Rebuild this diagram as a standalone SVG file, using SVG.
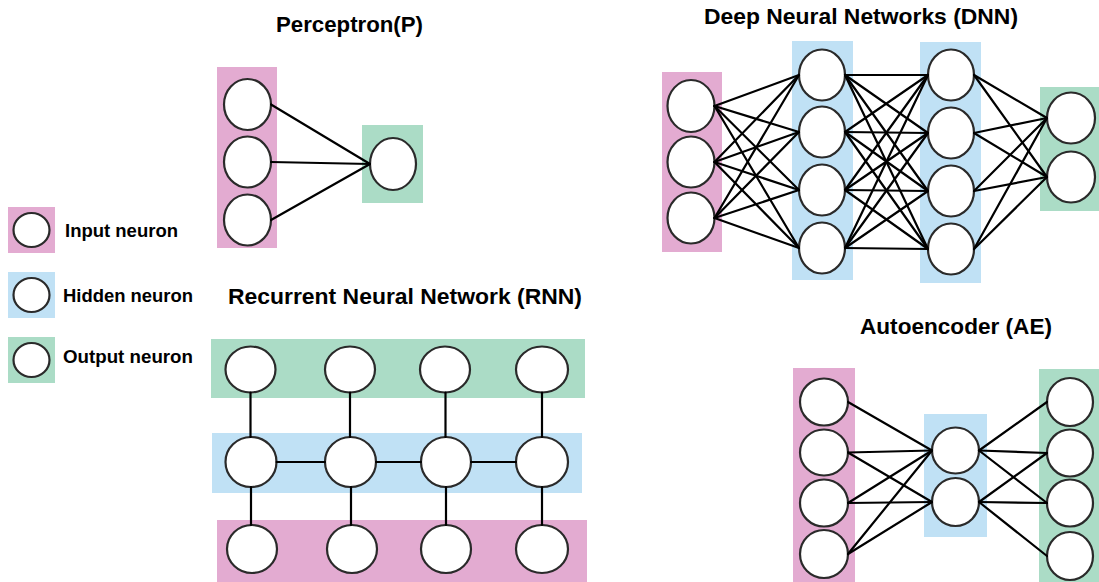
<svg xmlns="http://www.w3.org/2000/svg" width="1099" height="582" viewBox="0 0 1099 582">
<style>
.bg{fill:#ffffff}
.in{fill:#e3abd1}
.hid{fill:#c0e1f5}
.out{fill:#abdcc6}
.n{fill:#ffffff;stroke:#2a2a2a;stroke-width:2.2}
.title{font-family:"Liberation Sans",Arial,sans-serif;font-weight:bold;font-size:22px;fill:#000}
.leg{font-family:"Liberation Sans",Arial,sans-serif;font-weight:bold;font-size:17.5px;fill:#000}
#connectors line{stroke:#000;stroke-width:2.2;stroke-linecap:round}
</style>
<rect class="bg" x="0" y="0" width="1099" height="582"/>

<!-- Titles -->
<text class="title" x="276" y="32" textLength="147" lengthAdjust="spacingAndGlyphs">Perceptron(P)</text>
<text class="title" x="704" y="24" textLength="314" lengthAdjust="spacingAndGlyphs">Deep Neural Networks (DNN)</text>
<text class="title" x="228" y="304" textLength="354" lengthAdjust="spacingAndGlyphs">Recurrent Neural Network (RNN)</text>
<text class="title" x="860" y="334" textLength="192" lengthAdjust="spacingAndGlyphs">Autoencoder (AE)</text>

<!-- Legend -->
<g id="legend-input">
<rect class="in" x="8" y="207" width="47" height="46"/>
<ellipse class="n" cx="31.5" cy="230" rx="18" ry="17"/>
<text class="leg" x="65" y="237" textLength="113" lengthAdjust="spacingAndGlyphs">Input neuron</text>
</g>
<g id="legend-hidden">
<rect class="hid" x="8" y="272" width="47" height="46"/>
<ellipse class="n" cx="31.5" cy="295" rx="18" ry="17"/>
<text class="leg" x="63" y="302" textLength="130" lengthAdjust="spacingAndGlyphs">Hidden neuron</text>
</g>
<g id="legend-output">
<rect class="out" x="8" y="337" width="47" height="46"/>
<ellipse class="n" cx="31.5" cy="360" rx="18" ry="17"/>
<text class="leg" x="63" y="363" textLength="130" lengthAdjust="spacingAndGlyphs">Output neuron</text>
</g>

<!-- Layer backgrounds -->
<g id="layers">
<rect class="in" x="217" y="67" width="60" height="181"/>
<rect class="out" x="362" y="125" width="61" height="78"/>
<rect class="in" x="662" y="72" width="60" height="180"/>
<rect class="hid" x="792" y="41" width="61" height="239"/>
<rect class="hid" x="920" y="42" width="61" height="241"/>
<rect class="out" x="1040" y="87" width="59" height="124"/>
<rect class="out" x="211" y="339" width="374" height="59"/>
<rect class="hid" x="212" y="433" width="370" height="60"/>
<rect class="in" x="217" y="520" width="370" height="62"/>
<rect class="in" x="793" y="368" width="62" height="214"/>
<rect class="hid" x="924" y="414" width="63" height="123"/>
<rect class="out" x="1039" y="369" width="60" height="213"/>
</g>

<!-- Perceptron nodes -->
<g id="p-in1"><ellipse class="n" cx="247.5" cy="104.5" rx="23.5" ry="25.5"/></g>
<g id="p-in2"><ellipse class="n" cx="247.5" cy="162" rx="23.5" ry="25.5"/></g>
<g id="p-in3"><ellipse class="n" cx="247.5" cy="220" rx="23.5" ry="25.5"/></g>
<g id="p-out1"><ellipse class="n" cx="393" cy="164" rx="23" ry="26"/></g>

<!-- DNN nodes -->
<g id="d-in1"><ellipse class="n" cx="691" cy="106" rx="23.5" ry="26"/></g>
<g id="d-in2"><ellipse class="n" cx="691" cy="162" rx="23.5" ry="25.5"/></g>
<g id="d-in3"><ellipse class="n" cx="691" cy="218" rx="23.5" ry="25.5"/></g>
<g id="d-h1a"><ellipse class="n" cx="822" cy="75" rx="23" ry="25.5"/></g>
<g id="d-h1b"><ellipse class="n" cx="822" cy="132" rx="23" ry="25.5"/></g>
<g id="d-h1c"><ellipse class="n" cx="822" cy="190" rx="23" ry="25.5"/></g>
<g id="d-h1d"><ellipse class="n" cx="822" cy="248" rx="23" ry="25.5"/></g>
<g id="d-h2a"><ellipse class="n" cx="951" cy="75" rx="23" ry="25.5"/></g>
<g id="d-h2b"><ellipse class="n" cx="951" cy="133" rx="23" ry="25.5"/></g>
<g id="d-h2c"><ellipse class="n" cx="951" cy="191" rx="23" ry="25.5"/></g>
<g id="d-h2d"><ellipse class="n" cx="951" cy="249" rx="23" ry="25.5"/></g>
<g id="d-out1"><ellipse class="n" cx="1071" cy="118" rx="24" ry="25.5"/></g>
<g id="d-out2"><ellipse class="n" cx="1071" cy="177" rx="24" ry="25.5"/></g>

<!-- RNN nodes -->
<g id="r-o1"><ellipse class="n" cx="250.5" cy="369.5" rx="25" ry="23"/></g>
<g id="r-o2"><ellipse class="n" cx="350" cy="369.5" rx="25" ry="23"/></g>
<g id="r-o3"><ellipse class="n" cx="445" cy="369.5" rx="25" ry="23"/></g>
<g id="r-o4"><ellipse class="n" cx="542" cy="369.5" rx="26" ry="23"/></g>
<g id="r-h1"><ellipse class="n" cx="251" cy="462" rx="25.5" ry="25"/></g>
<g id="r-h2"><ellipse class="n" cx="350.5" cy="462" rx="25.5" ry="25"/></g>
<g id="r-h3"><ellipse class="n" cx="446" cy="462" rx="25" ry="25"/></g>
<g id="r-h4"><ellipse class="n" cx="542" cy="462" rx="26" ry="25"/></g>
<g id="r-i1"><ellipse class="n" cx="252" cy="549" rx="25" ry="24"/></g>
<g id="r-i2"><ellipse class="n" cx="352" cy="549" rx="25" ry="24"/></g>
<g id="r-i3"><ellipse class="n" cx="446" cy="549" rx="25" ry="24"/></g>
<g id="r-i4"><ellipse class="n" cx="542" cy="549" rx="26" ry="24"/></g>

<!-- AE nodes -->
<g id="a-in1"><ellipse class="n" cx="824" cy="402" rx="24" ry="23.5"/></g>
<g id="a-in2"><ellipse class="n" cx="824" cy="452.5" rx="24" ry="23"/></g>
<g id="a-in3"><ellipse class="n" cx="824" cy="503" rx="24" ry="23.5"/></g>
<g id="a-in4"><ellipse class="n" cx="824" cy="554" rx="24" ry="24"/></g>
<g id="a-h1"><ellipse class="n" cx="955.5" cy="450.5" rx="23.5" ry="23"/></g>
<g id="a-h2"><ellipse class="n" cx="955.5" cy="502" rx="23.5" ry="24"/></g>
<g id="a-out1"><ellipse class="n" cx="1070" cy="402" rx="23" ry="24"/></g>
<g id="a-out2"><ellipse class="n" cx="1070" cy="453" rx="23" ry="23.5"/></g>
<g id="a-out3"><ellipse class="n" cx="1070" cy="503" rx="23" ry="23.5"/></g>
<g id="a-out4"><ellipse class="n" cx="1070" cy="556" rx="23" ry="24"/></g>

<g id="connectors">
<!-- Perceptron -->
<line x1="271" y1="104.5" x2="370" y2="164"/>
<line x1="271" y1="162" x2="370" y2="164"/>
<line x1="271" y1="220" x2="370" y2="164"/>
<!-- DNN input -> hidden1 -->
<line x1="714.5" y1="106" x2="799" y2="75"/>
<line x1="714.5" y1="106" x2="799" y2="132"/>
<line x1="714.5" y1="106" x2="799" y2="190"/>
<line x1="714.5" y1="106" x2="799" y2="248"/>
<line x1="714.5" y1="162" x2="799" y2="75"/>
<line x1="714.5" y1="162" x2="799" y2="132"/>
<line x1="714.5" y1="162" x2="799" y2="190"/>
<line x1="714.5" y1="162" x2="799" y2="248"/>
<line x1="714.5" y1="218" x2="799" y2="75"/>
<line x1="714.5" y1="218" x2="799" y2="132"/>
<line x1="714.5" y1="218" x2="799" y2="190"/>
<line x1="714.5" y1="218" x2="799" y2="248"/>
<!-- DNN hidden1 -> hidden2 -->
<line x1="845" y1="75" x2="928" y2="75"/>
<line x1="845" y1="75" x2="928" y2="133"/>
<line x1="845" y1="75" x2="928" y2="191"/>
<line x1="845" y1="75" x2="928" y2="249"/>
<line x1="845" y1="132" x2="928" y2="75"/>
<line x1="845" y1="132" x2="928" y2="133"/>
<line x1="845" y1="132" x2="928" y2="191"/>
<line x1="845" y1="132" x2="928" y2="249"/>
<line x1="845" y1="190" x2="928" y2="75"/>
<line x1="845" y1="190" x2="928" y2="133"/>
<line x1="845" y1="190" x2="928" y2="191"/>
<line x1="845" y1="190" x2="928" y2="249"/>
<line x1="845" y1="248" x2="928" y2="75"/>
<line x1="845" y1="248" x2="928" y2="133"/>
<line x1="845" y1="248" x2="928" y2="191"/>
<line x1="845" y1="248" x2="928" y2="249"/>
<!-- DNN hidden2 -> output -->
<line x1="974" y1="75" x2="1047" y2="118"/>
<line x1="974" y1="75" x2="1047" y2="177"/>
<line x1="974" y1="133" x2="1047" y2="118"/>
<line x1="974" y1="133" x2="1047" y2="177"/>
<line x1="974" y1="191" x2="1047" y2="118"/>
<line x1="974" y1="191" x2="1047" y2="177"/>
<line x1="974" y1="249" x2="1047" y2="118"/>
<line x1="974" y1="249" x2="1047" y2="177"/>
<!-- RNN vertical -->
<line x1="250.5" y1="392.5" x2="250.5" y2="437"/>
<line x1="350" y1="392.5" x2="350" y2="437"/>
<line x1="445.5" y1="392.5" x2="445.5" y2="437"/>
<line x1="542" y1="392.5" x2="542" y2="437"/>
<line x1="251" y1="487" x2="251" y2="525"/>
<line x1="351" y1="487" x2="351" y2="525"/>
<line x1="446" y1="487" x2="446" y2="525"/>
<line x1="542" y1="487" x2="542" y2="525"/>
<!-- RNN horizontal -->
<line x1="276.5" y1="462" x2="325" y2="462"/>
<line x1="376" y1="462" x2="421" y2="462"/>
<line x1="471" y1="462" x2="516" y2="462"/>
<!-- AE input -> hidden -->
<line x1="848" y1="402" x2="932" y2="450.5"/>
<line x1="848" y1="452.5" x2="932" y2="450.5"/>
<line x1="848" y1="452.5" x2="932" y2="502"/>
<line x1="848" y1="503" x2="932" y2="450.5"/>
<line x1="848" y1="503" x2="932" y2="502"/>
<line x1="848" y1="554" x2="932" y2="450.5"/>
<line x1="848" y1="554" x2="932" y2="502"/>
<!-- AE hidden -> output -->
<line x1="979" y1="450.5" x2="1047" y2="402"/>
<line x1="979" y1="450.5" x2="1047" y2="453"/>
<line x1="979" y1="450.5" x2="1047" y2="503"/>
<line x1="979" y1="502" x2="1047" y2="453"/>
<line x1="979" y1="502" x2="1047" y2="503"/>
<line x1="979" y1="502" x2="1047" y2="556"/>
</g>
</svg>
